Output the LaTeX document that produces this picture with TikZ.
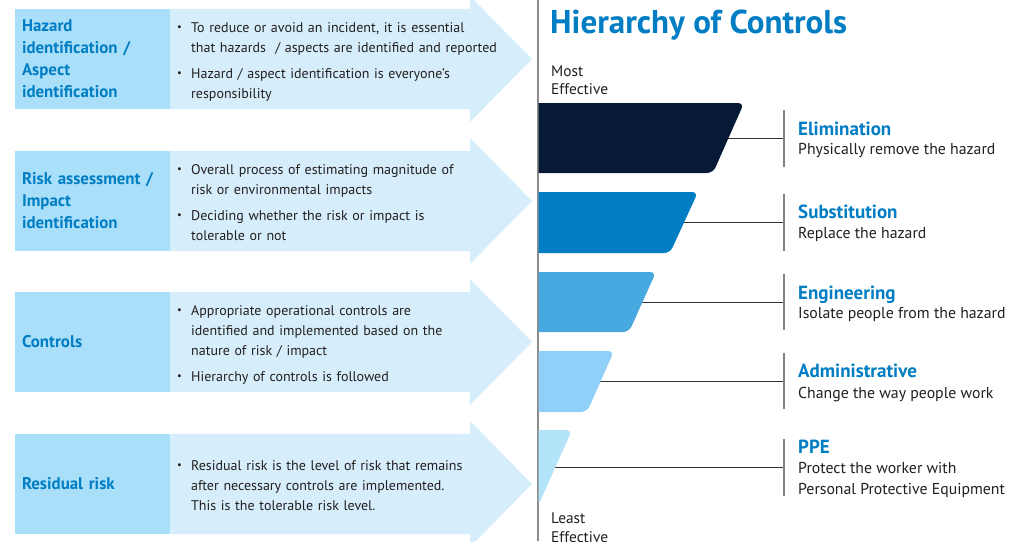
\documentclass[tikz,border=0pt]{standalone}
\usepackage{fontspec}
\setmainfont{PT Sans}
\definecolor{hblue}{RGB}{0,125,195}
\definecolor{boxdark}{RGB}{170,223,250}
\definecolor{boxlight}{RGB}{214,238,251}
\definecolor{barA}{RGB}{6,26,56}
\definecolor{barB}{RGB}{0,125,195}
\definecolor{barC}{RGB}{72,168,224}
\definecolor{barD}{RGB}{143,207,248}
\definecolor{barE}{RGB}{180,228,250}
\definecolor{divgray}{RGB}{140,140,140}
\definecolor{tickgray}{RGB}{130,130,130}
\definecolor{linedark}{RGB}{50,50,50}
\definecolor{bodytext}{RGB}{35,31,32}
\newcommand{\bitem}[1]{\noindent\makebox[14pt][l]{\raisebox{1.2pt}{\fontsize{10.5}{10}\selectfont\textbullet}}\begin{tabular}[t]{@{}l@{}}#1\end{tabular}\par}
\tikzset{
  darkbox/.style={fill=boxdark, text=hblue, font=\fontsize{16.9}{22}\selectfont\bfseries,
    minimum width=155pt, minimum height=100pt, inner xsep=7pt, inner ysep=0pt,
    text width=141pt, align=left},
  shaft/.style={fill=boxlight},
  body/.style={anchor=west, text width=320pt, align=left, inner sep=0pt, text=bodytext,
    font=\fontsize{14}{20}\selectfont},
  lbl/.style={anchor=base west, inner sep=0pt, text=hblue, font=\fontsize{19}{20}\selectfont\bfseries},
  desc/.style={anchor=base west, inner sep=0pt, text=bodytext, font=\fontsize{15.8}{20}\selectfont},
  eff/.style={anchor=base west, inner sep=0pt, text=bodytext, font=\fontsize{15.4}{18}\selectfont},
  tick/.style={draw=tickgray, line width=1.3pt},
  conn/.style={draw=linedark, line width=1pt},
}
\begin{document}
\begin{tikzpicture}[x=1pt,y=-1pt]
\useasboundingbox (0,0) rectangle (1009,541);
\clip (0,0) rectangle (1009,541);
\fill[white] (0,0) rectangle (1009,541);

% ---------- left process arrows ----------
\node[darkbox] (t1) at (92.5,59) {Hazard\\identification /\\Aspect\\identification};
\fill[shaft] (t1.north east) -- (470,9) -- (470,-4) -- (532,59) -- (470,122) -- (470,109) -- (t1.south east) -- cycle;
\node[body] (b1) at (177,61) {\bitem{To reduce or avoid an incident, it is essential\\that hazards~ / aspects are identified and reported}\vspace{5pt}\bitem{Hazard / aspect identification is everyone's\\responsibility}};

\node[darkbox] (t2) at (92.5,201) {Risk assessment /\\Impact\\identification};
\fill[shaft] (t2.north east) -- (470,151) -- (470,138) -- (532,201) -- (470,264) -- (470,251) -- (t2.south east) -- cycle;
\node[body] (b2) at (177,203) {\bitem{Overall process of estimating magnitude of\\risk or environmental impacts}\vspace{5pt}\bitem{Deciding whether the risk or impact is\\tolerable or not}};

\node[darkbox] (t3) at (92.5,342) {Controls};
\fill[shaft] (t3.north east) -- (470,292) -- (470,279) -- (532,342) -- (470,405) -- (470,392) -- (t3.south east) -- cycle;
\node[body] (b3) at (177,344) {\bitem{Appropriate operational controls are\\identified and implemented based on the\\nature of risk / impact}\vspace{5pt}\bitem{Hierarchy of controls is followed}};

\node[darkbox] (t4) at (92.5,484) {Residual risk};
\fill[shaft] (t4.north east) -- (470,434) -- (470,421) -- (532,484) -- (470,547) -- (470,534) -- (t4.south east) -- cycle;
\node[body] (b4) at (177,486) {\bitem{Residual risk is the level of risk that remains\\after necessary controls are implemented.\\This is the tolerable risk level.}};

% ---------- divider ----------
\coordinate (dtop) at (538,0);
\coordinate (dbot) at (538,541);
\draw[divgray, line width=1.5pt] (dtop) -- (dbot);

% ---------- title ----------
\node[anchor=base west, inner sep=0pt, text=hblue, font=\fontsize{33}{36}\selectfont\bfseries] (title) at (550,33) {Hierarchy of Controls};
\node[eff] (most1) at (551,76) {Most};
\node[eff] (most2) at (551,94) {Effective};
\node[eff] (least1) at (551,523) {Least};
\node[eff] (least2) at (551,542) {Effective};

% ---------- connectors (under bars) ----------
\coordinate (s1) at (700,138); \coordinate (k1) at (784,138);
\coordinate (s2) at (660,222); \coordinate (k2) at (784,222);
\coordinate (s3) at (620,302); \coordinate (k3) at (784,302);
\coordinate (s4) at (580,381); \coordinate (k4) at (784,381);
\coordinate (s5) at (545,467); \coordinate (k5) at (784,467);
\foreach \i in {1,...,5} { \draw[conn] (s\i) -- (k\i); }

\coordinate (u1) at (784,110); \coordinate (v1) at (784,167);
\coordinate (u2) at (784,194); \coordinate (v2) at (784,251);
\coordinate (u3) at (784,274); \coordinate (v3) at (784,330);
\coordinate (u4) at (784,353); \coordinate (v4) at (784,409);
\coordinate (u5) at (784,439); \coordinate (v5) at (784,496);
\foreach \i in {1,...,5} { \draw[tick] (u\i) -- (v\i); }

% ---------- bars ----------
\begin{scope}
\clip (538.7,0) rectangle (1009,541);
\fill[barA, rounded corners=6pt] (520,103) -- (744,103) -- (713,173) -- (520,173) -- cycle;
\fill[barB, rounded corners=6pt] (520,192) -- (698,192) -- (670,253) -- (520,253) -- cycle;
\fill[barC, rounded corners=6pt] (520,272) -- (656,272) -- (629,332) -- (520,332) -- cycle;
\fill[barD, rounded corners=6pt] (520,351) -- (614,351) -- (587,412) -- (520,412) -- cycle;
\fill[barE, rounded corners=6pt] (520,430) -- (572,430) -- (538,506) -- (520,506) -- cycle;
\end{scope}

% ---------- labels ----------
\node[lbl] (n1) at (798,135) {Elimination};
\node[desc] (d1) at (798,154) {Physically remove the hazard};
\node[lbl] (n2) at (798,218) {Substitution};
\node[desc] (d2) at (798,238) {Replace the hazard};
\node[lbl] (n3) at (798,299) {Engineering};
\node[desc] (d3) at (798,318) {Isolate people from the hazard};
\node[lbl] (n4) at (798,377) {Administrative};
\node[desc] (d4) at (798,398) {Change the way people work};
\node[lbl] (n5) at (798,453) {PPE};
\node[desc] (d5) at (798,473) {Protect the worker with};
\node[desc] (d6) at (798,494) {Personal Protective Equipment};
\end{tikzpicture}
\end{document}
